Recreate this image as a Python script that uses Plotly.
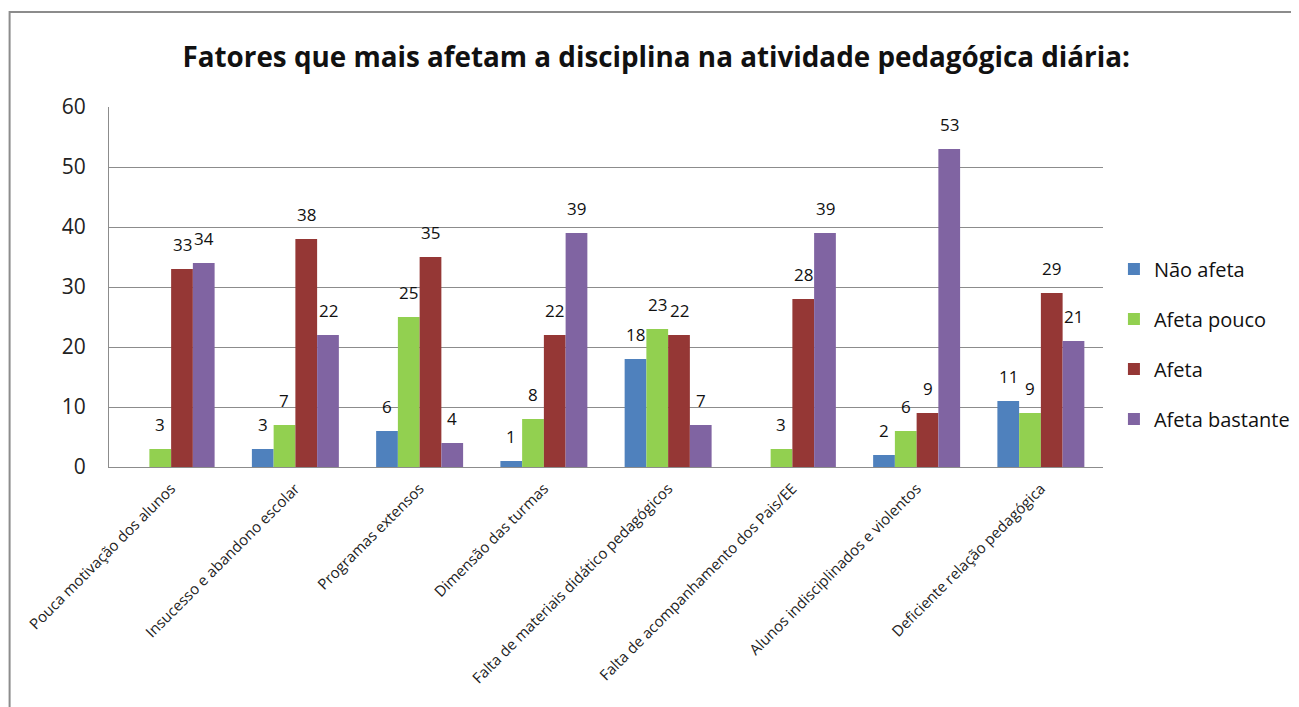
import plotly.graph_objects as go

categories = [
    "Pouca motivação dos alunos",
    "Insucesso e abandono escolar",
    "Programas extensos",
    "Dimensão das turmas",
    "Falta de materiais didático pedagógicos",
    "Falta de acompanhamento dos Pais/EE",
    "Alunos indisciplinados e violentos",
    "Deficiente relação pedagógica",
]
nao_afeta = [0, 3, 6, 1, 18, 0, 2, 11]
afeta_pouco = [3, 7, 25, 8, 23, 3, 6, 9]
afeta = [33, 38, 35, 22, 22, 28, 9, 29]
afeta_bastante = [34, 22, 4, 39, 7, 39, 53, 21]

series = [
    ("Não afeta", nao_afeta, "#4F81BD"),
    ("Afeta pouco", afeta_pouco, "#92D050"),
    ("Afeta", afeta, "#953735"),
    ("Afeta bastante", afeta_bastante, "#8064A2"),
]

FONT = "'Open Sans', Lato, sans-serif"

fig = go.Figure()
for i, (name, vals, color) in enumerate(series):
    fig.add_trace(go.Bar(
        x=categories, y=vals, name=name,
        marker=dict(color=color, line=dict(width=0)),
        legendgroup=name,
    ))

# data labels above bars (zero values get no label, as in Excel)
bar_px = 999 / len(categories) * 0.7 / len(series)
for i, (name, vals, color) in enumerate(series):
    for cat, v in zip(categories, vals):
        if not v:
            continue
        fig.add_annotation(
            x=cat, y=v, text=str(v), showarrow=False,
            xshift=(i - 1.5) * bar_px, yshift=11, yanchor="bottom",
            font=dict(size=17, color="#111111", family=FONT),
        )

fig.update_layout(
    width=1299, height=707,
    barmode="group", bargap=0.3, bargroupgap=0,
    paper_bgcolor="white", plot_bgcolor="white",
    margin=dict(l=101, r=199, t=99, b=248),
    font=dict(family=FONT, color="#222222"),
    title=dict(
        text="<b>Fatores que mais afetam a disciplina na atividade pedagógica diária:</b>",
        x=0.499, xanchor="center", y=0.93, yanchor="middle",
        font=dict(size=27.8, color="#111111", family=FONT),
    ),
    legend=dict(
        x=1.011, y=0.604, xanchor="left", yanchor="top",
        font=dict(size=20, color="#111111", family=FONT),
        tracegroupgap=21, itemwidth=30,
    ),
    showlegend=True,
)

fig.update_yaxes(
    range=[0, 60], dtick=10,
    showgrid=True, gridcolor="#8c8c8c", gridwidth=1,
    showline=True, linecolor="#8c8c8c", linewidth=1,
    tickfont=dict(size=21, color="#222222", family=FONT),
    ticks="", ticklabelstandoff=18, zeroline=False,
)
fig.update_xaxes(
    tickangle=-45, showline=True, linecolor="#8c8c8c", linewidth=1,
    tickfont=dict(size=15, color="#222222", family=FONT),
    ticks="", ticklabelstandoff=6,
)

# outer chart border, as in the Excel chart
fig.add_shape(
    type="rect", xref="paper", yref="paper",
    x0=-0.1, x1=1.25, y0=-0.8, y1=1.264,
    line=dict(color="#8c8c8c", width=2), fillcolor="rgba(0,0,0,0)",
    layer="below",
)

fig.write_html("out.html")
